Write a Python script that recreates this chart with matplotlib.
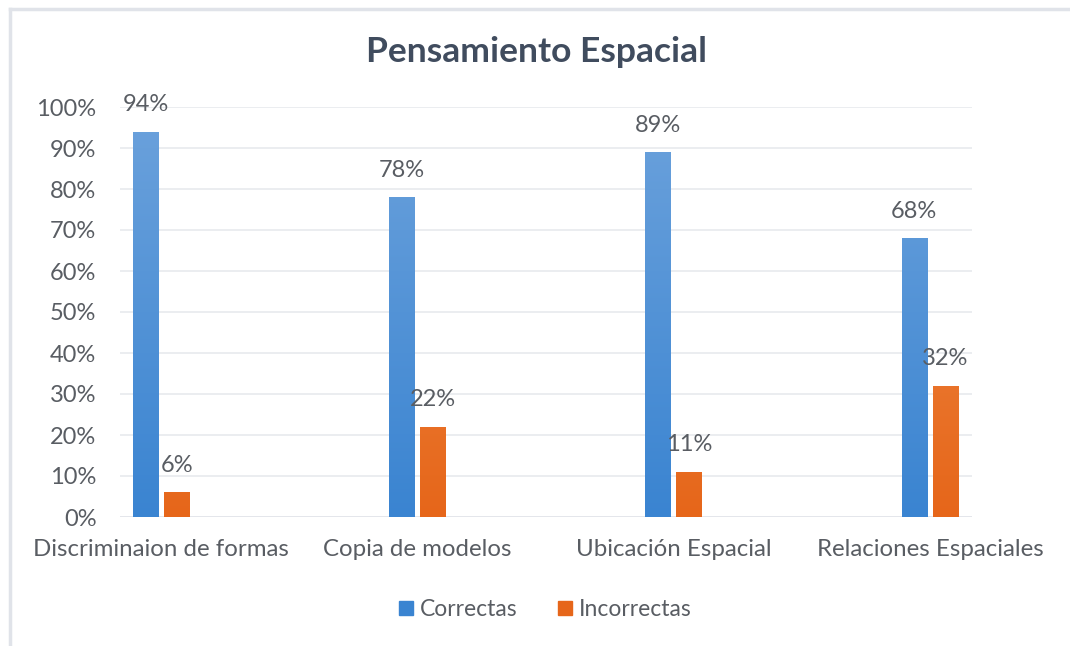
import numpy as np
import matplotlib.pyplot as plt
from matplotlib.colors import LinearSegmentedColormap
from matplotlib.lines import Line2D

categories = ["Discriminaion de formas", "Copia de modelos",
              "Ubicación Espacial", "Relaciones Espaciales"]
correctas = [94, 78, 89, 68]
incorrectas = [6, 22, 11, 32]
series_names = ["Correctas", "Incorrectas"]
yticks = [0, 10, 20, 30, 40, 50, 60, 70, 80, 90, 100]

BLUE_TOP, BLUE_BOT = "#6ca2dc", "#3a84d1"
ORANGE_TOP, ORANGE_BOT = "#f08f4c", "#e6661a"
TEXT = "#595d63"
TITLE = "#404c5e"

plt.rcParams["font.family"] = ["Lato", "DejaVu Sans"]

fig = plt.figure(figsize=(10.7, 6.46), dpi=100)
ax = fig.add_axes([120 / 1070, 129 / 646, 852 / 1070, 410 / 646])

x = np.arange(len(categories))
width = 0.1
offset = 0.061


def gradient_bars(xpos, values, top, bottom):
    bars = ax.bar(xpos, values, width, color=bottom, zorder=2)
    cmap = LinearSegmentedColormap.from_list("g", [bottom, top])
    grad = np.linspace(0, 1, 256).reshape(-1, 1)
    for b in bars:
        x0, w = b.get_x(), b.get_width()
        im = ax.imshow(grad, cmap=cmap, origin="lower", aspect="auto",
                       extent=(x0, x0 + w, 0, 100), zorder=3)
        im.set_clip_path(b)
    return bars


bars_c = gradient_bars(x - offset, correctas, BLUE_TOP, BLUE_BOT)
bars_i = gradient_bars(x + offset, incorrectas, ORANGE_TOP, ORANGE_BOT)

for bars, vals in ((bars_c, correctas), (bars_i, incorrectas)):
    for b, v in zip(bars, vals):
        ax.annotate(f"{v}%", (b.get_x() + b.get_width() / 2, v),
                    xytext=(0, 19.5), textcoords="offset points",
                    ha="center", va="center", fontsize=17, color=TEXT)

ax.set_xlim(-0.16, 3.164)
ax.set_ylim(0, 100)
ax.set_yticks(yticks)
ax.set_yticklabels([f"{t}%" for t in yticks], fontsize=17, color=TEXT)
ax.set_xticks(x)
ax.set_xticklabels(categories, fontsize=17.3, color=TEXT)
ax.tick_params(length=0)
ax.tick_params(axis="y", pad=17)
ax.tick_params(axis="x", pad=16)
ax.grid(axis="y", color="#e8eaee", linewidth=1.2, zorder=0)
for s in ax.spines.values():
    s.set_visible(False)
ax.axhline(0, color="#e3e5ea", linewidth=1.2, zorder=1)
ax.set_axisbelow(True)

fig.text(537 / 1070, 1 - 52 / 646, "Pensamiento Espacial", ha="center",
         va="center", fontsize=25.5, fontweight="bold", color=TITLE)

handles = [Line2D([], [], marker="s", linestyle="", markersize=10,
                  color=c) for c in (BLUE_BOT, ORANGE_BOT)]
fig.legend(handles, series_names, loc="center", ncol=2,
           bbox_to_anchor=(543 / 1070, 1 - 610 / 646), frameon=False,
           fontsize=16.5, labelcolor=TEXT, handletextpad=0.1,
           columnspacing=1.6, handlelength=1.0)

# light frame along the top and left edges
fig.add_artist(Line2D([10 / 1070, 1], [1 - 9 / 646] * 2, color="#e0e3e9",
                      linewidth=2.5, transform=fig.transFigure))
fig.add_artist(Line2D([10 / 1070] * 2, [0, 1 - 9 / 646], color="#e0e3e9",
                      linewidth=2.5, transform=fig.transFigure))

fig.savefig("out.png", dpi=100, facecolor="white")
